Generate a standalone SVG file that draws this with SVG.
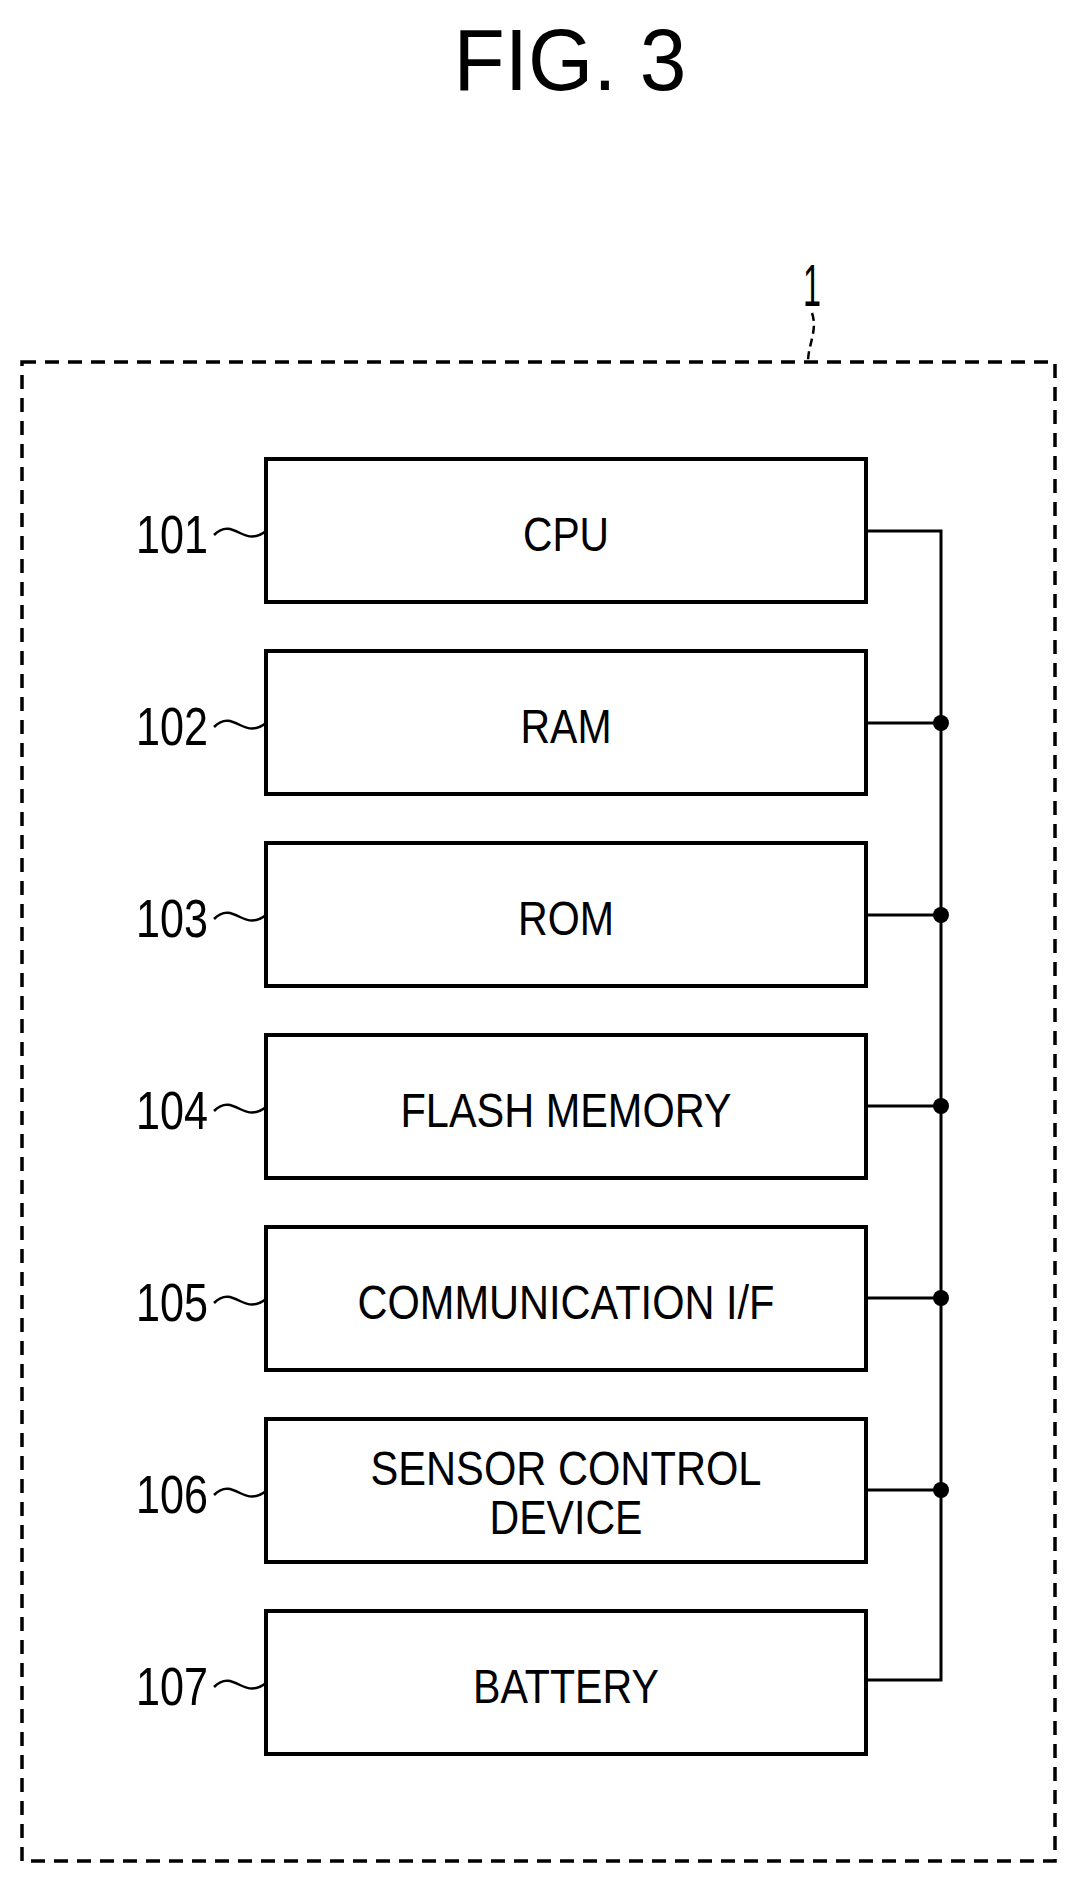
<svg xmlns="http://www.w3.org/2000/svg" width="1079" height="1887" viewBox="0 0 1079 1887">
<style>
.b{fill:#fff;stroke:#000;stroke-width:4}
.t{font-family:"Liberation Sans",Arial,sans-serif;font-size:48px;text-anchor:middle}
.l{font-family:"Liberation Sans",Arial,sans-serif;font-size:54px;text-anchor:end}
.w{fill:none;stroke:#000;stroke-width:2.5}
.c{fill:none;stroke:#000;stroke-width:3}
</style>
<rect width="1079" height="1887" fill="#fff"/>
<text x="570" y="90" font-family="Liberation Sans,Arial,sans-serif" font-size="88" text-anchor="middle" textLength="233" lengthAdjust="spacingAndGlyphs">FIG.  3</text>
<g id="outer">
<rect x="22" y="362" width="1033" height="1499" fill="none" stroke="#000" stroke-width="3.5" stroke-dasharray="14,9"/>
<text x="812" y="306" font-family="Liberation Sans,Arial,sans-serif" font-size="60" text-anchor="middle" textLength="18" lengthAdjust="spacingAndGlyphs">1</text>
<path d="M812,313 C818,330 808,345 808,362" class="w" stroke-dasharray="8,5"/>
</g>
<g id="connectors">
<path class="c" d="M866,531 H941 V1680 H866 M866,723 H941 M866,915 H941 M866,1106 H941 M866,1298 H941 M866,1490 H941"/>
<circle cx="941" cy="723" r="8"/><circle cx="941" cy="915" r="8"/><circle cx="941" cy="1106" r="8"/><circle cx="941" cy="1298" r="8"/><circle cx="941" cy="1490" r="8"/>
</g>
<g id="n101"><rect class="b" x="266" y="459" width="600" height="143"/><text class="t" x="566" y="551" textLength="86" lengthAdjust="spacingAndGlyphs">CPU</text><text class="l" x="208" y="553" textLength="72" lengthAdjust="spacingAndGlyphs">101</text><path class="w" d="M214,535 c10,-10 18,-6 26,-2 s16,6 26,-2"/></g>
<g id="n102"><rect class="b" x="266" y="651" width="600" height="143"/><text class="t" x="566" y="743" textLength="91" lengthAdjust="spacingAndGlyphs">RAM</text><text class="l" x="208" y="745" textLength="72" lengthAdjust="spacingAndGlyphs">102</text><path class="w" d="M214,727 c10,-10 18,-6 26,-2 s16,6 26,-2"/></g>
<g id="n103"><rect class="b" x="266" y="843" width="600" height="143"/><text class="t" x="566" y="935" textLength="96" lengthAdjust="spacingAndGlyphs">ROM</text><text class="l" x="208" y="937" textLength="72" lengthAdjust="spacingAndGlyphs">103</text><path class="w" d="M214,919 c10,-10 18,-6 26,-2 s16,6 26,-2"/></g>
<g id="n104"><rect class="b" x="266" y="1035" width="600" height="143"/><text class="t" x="566" y="1127" textLength="331" lengthAdjust="spacingAndGlyphs">FLASH MEMORY</text><text class="l" x="208" y="1129" textLength="72" lengthAdjust="spacingAndGlyphs">104</text><path class="w" d="M214,1111 c10,-10 18,-6 26,-2 s16,6 26,-2"/></g>
<g id="n105"><rect class="b" x="266" y="1227" width="600" height="143"/><text class="t" x="566" y="1319" textLength="417" lengthAdjust="spacingAndGlyphs">COMMUNICATION I/F</text><text class="l" x="208" y="1321" textLength="72" lengthAdjust="spacingAndGlyphs">105</text><path class="w" d="M214,1303 c10,-10 18,-6 26,-2 s16,6 26,-2"/></g>
<g id="n106"><rect class="b" x="266" y="1419" width="600" height="143"/><text class="t" x="566" y="1485" textLength="391" lengthAdjust="spacingAndGlyphs">SENSOR CONTROL</text><text class="t" x="566" y="1534" textLength="153" lengthAdjust="spacingAndGlyphs">DEVICE</text><text class="l" x="208" y="1513" textLength="72" lengthAdjust="spacingAndGlyphs">106</text><path class="w" d="M214,1495 c10,-10 18,-6 26,-2 s16,6 26,-2"/></g>
<g id="n107"><rect class="b" x="266" y="1611" width="600" height="143"/><text class="t" x="566" y="1703" textLength="186" lengthAdjust="spacingAndGlyphs">BATTERY</text><text class="l" x="208" y="1705" textLength="72" lengthAdjust="spacingAndGlyphs">107</text><path class="w" d="M214,1687 c10,-10 18,-6 26,-2 s16,6 26,-2"/></g>
</svg>
